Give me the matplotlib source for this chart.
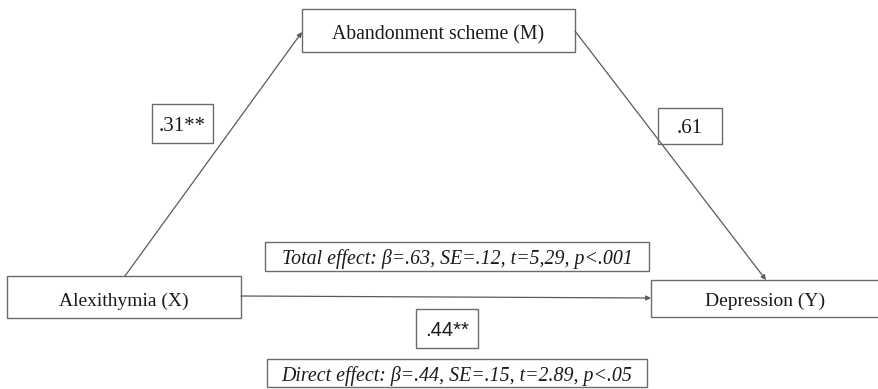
import matplotlib
matplotlib.use("Agg")
import matplotlib.pyplot as plt
from matplotlib.patches import Rectangle, FancyArrowPatch

# Variables in the mediation model
node_labels = ["Alexithymia (X)", "Abandonment scheme (M)", "Depression (Y)"]
# Path coefficients: a (X->M), b (M->Y), c' (X->Y direct)
path_labels = [".31**", ".61", ".44**"]
effect_labels = [
    "Total effect: \u03b2=.63, SE=.12, t=5,29, p<.001",
    "Direct effect: \u03b2=.44, SE=.15, t=2.89, p<.05",
]

W, H = 879, 389
fig = plt.figure(figsize=(W / 100, H / 100), dpi=100)
ax = fig.add_axes([0, 0, 1, 1])
ax.set_xlim(0, W)
ax.set_ylim(H, 0)
ax.axis("off")

serif = ["Liberation Serif", "DejaVu Serif"]
sans = ["Liberation Sans", "DejaVu Sans"]
edge = "#6b6b6b"
line = "#5a5a5a"


def box(x0, y0, x1, y1, text, size, style="normal", family=serif, dy=0):
    ax.add_patch(Rectangle((x0, y0), x1 - x0, y1 - y0, fill=False,
                           edgecolor=edge, linewidth=1.0))
    ax.text((x0 + x1) / 2, (y0 + y1) / 2 + dy, text, ha="center",
            va="center_baseline", fontsize=size, family=family, style=style,
            color="#1a1a1a")


def arrow(p0, p1):
    ax.add_patch(FancyArrowPatch(p0, p1, arrowstyle="-|>", mutation_scale=7,
                                 color=line, linewidth=0.9,
                                 shrinkA=0, shrinkB=0))


# Variable boxes
box(7, 276, 241, 318, node_labels[0], 14, dy=2)
box(302, 9, 575, 52, node_labels[1], 14.2, dy=2)
box(651, 280, 879, 317, node_labels[2], 14, dy=1)

# Paths
arrow((125, 276), (302, 32))
arrow((575, 31), (766, 280))
arrow((241, 296), (651, 298))

# Coefficient boxes
box(152, 104, 213, 143, path_labels[0], 15)
box(658, 108, 722, 144, path_labels[1], 15)
box(416, 309, 478, 348, path_labels[2], 14.5, family=sans)

# Effect summaries
box(265, 242, 649, 271, effect_labels[0], 14.3, style="italic")
box(267, 359, 647, 387, effect_labels[1], 14.3, style="italic")

fig.savefig("out.png", dpi=100)
